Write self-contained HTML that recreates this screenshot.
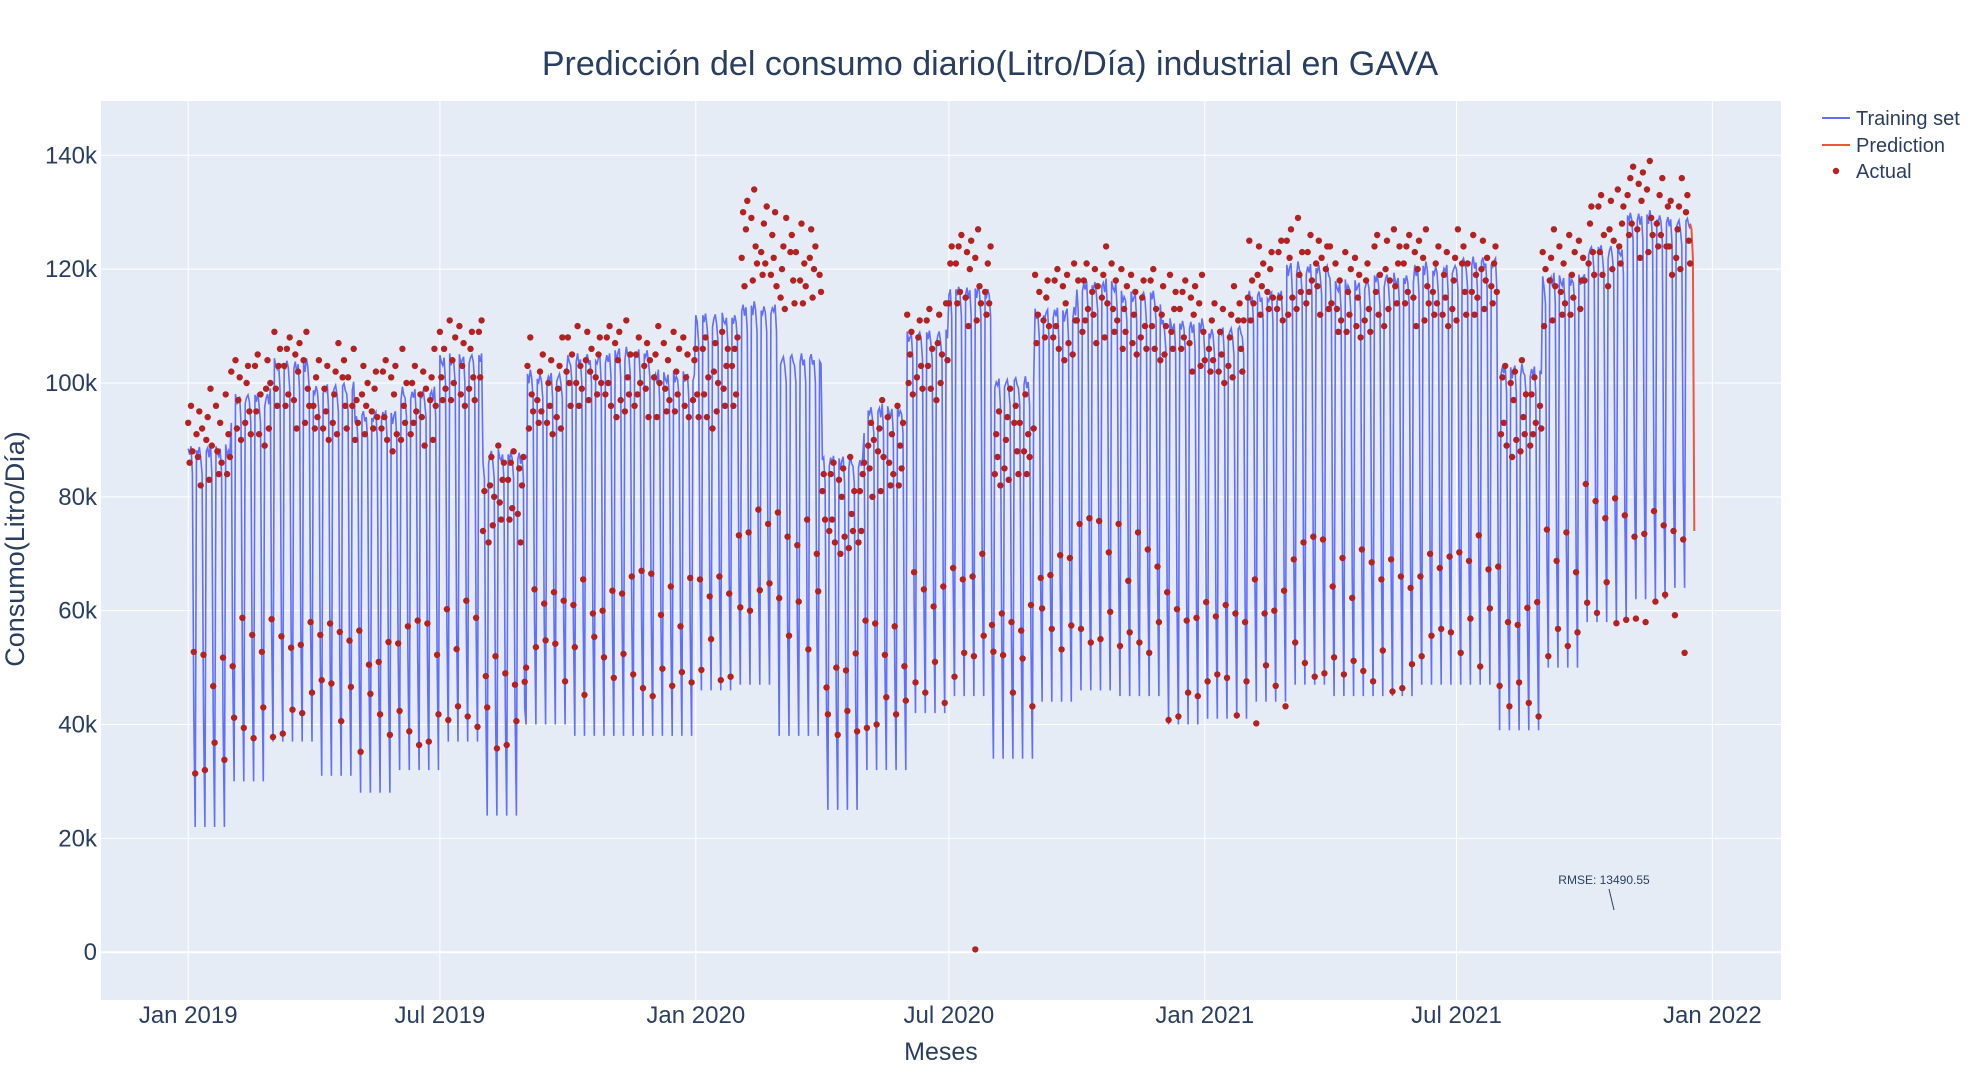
<!DOCTYPE html>
<html><head><meta charset="utf-8">
<style>
html,body{margin:0;padding:0;background:#fff;}
svg{display:block;font-family:"Liberation Sans",sans-serif;}
</style></head>
<body>
<svg id="chart" width="1980" height="1080" viewBox="0 0 1980 1080" xmlns="http://www.w3.org/2000/svg">
<rect x="101" y="101" width="1680" height="899" fill="#e5ecf6"/>
<g id="grid"></g>
<g id="series"></g>
<g id="axes"></g>
<text x="990" y="75" text-anchor="middle" font-size="34" fill="#2a3f5f">Predicción del consumo diario(Litro/Día) industrial en GAVA</text>
<text x="941" y="1060" text-anchor="middle" font-size="25" fill="#2a3f5f">Meses</text>
<text transform="translate(24,549) rotate(-90)" text-anchor="middle" font-size="27" fill="#2a3f5f">Consumo(Litro/Día)</text>
<g>
 <g><line x1="1822" y1="118" x2="1850" y2="118" stroke="#636efa" stroke-width="2"/><text x="1856" y="125" font-size="20" fill="#2a3f5f">Training set</text></g>
 <g><line x1="1822" y1="145" x2="1850" y2="145" stroke="#EF553B" stroke-width="2"/><text x="1856" y="152" font-size="20" fill="#2a3f5f">Prediction</text></g>
 <g><circle cx="1836" cy="171" r="3.2" fill="#B22222"/><text x="1856" y="178" font-size="20" fill="#2a3f5f">Actual</text></g>
</g>
<g>
 <text x="1604" y="884" text-anchor="middle" font-size="12" fill="#2a3f5f">RMSE: 13490.55</text>
 <line x1="1609" y1="889" x2="1614" y2="910" stroke="#2a3f5f" stroke-width="1"/>
</g>
</svg>
<script>
// monthly levels (k litres), Jan 2019 .. Dec 2021
const trainHi=[88,97,103,99,94,98,104,87,101,104,105,101, 111,113,104,86,95,108,116,100,112,117,115,110, 109,115,120,117,118,120,121,102,118,123,129,128];
const trainLo=[22,30,37,31,28,32,37,24,40,38,38,38, 46,47,38,25,32,42,45,34,44,46,45,40, 41,44,47,45,45,47,47,39,50,58,62,64];
const actHi=[90,97,100,98,96,97,103,80,99,102,102,101, 100,125,120,78,88,105,118,90,112,115,112,110, 108,117,120,115,118,118,118,95,118,125,130,127];
const actLo=[35,40,42,43,40,40,42,40,50,50,50,48, 52,60,58,40,43,48,52,48,55,58,55,45, 44,45,52,50,50,52,55,45,55,62,58,55];
const jitter=[3,-4,6,-2,8,-6,1,-3,5,-8,2,7,-5,0,4,-7,9,-1,-4,3,6,-2,-6];
const outliers=[["2020-07-20",0.5]];
const trainEnd="2021-12-16";
const predDates=["2021-12-16","2021-12-17","2021-12-18","2021-12-19"];
const predValues=[128,127,122,74];
const yTicks=[0,20,40,60,80,100,120,140];
const yTickLabels=["0","20k","40k","60k","80k","100k","120k","140k"];
const xTickDates=["2019-01-01","2019-07-01","2020-01-01","2020-07-01","2021-01-01","2021-07-01","2022-01-01"];
const xTickLabels=["Jan 2019","Jul 2019","Jan 2020","Jul 2020","Jan 2021","Jul 2021","Jan 2022"];

const NS="http://www.w3.org/2000/svg";
const t0=Date.UTC(2019,0,1);
function days(s){return (Date.parse(s+"T00:00:00Z")-t0)/86400000;}
function X(d){return 188.2+d/1096*1524.2;}
function Y(v){return 952.2-v/140*796.9;}
function mk(tag,attrs,parent){const e=document.createElementNS(NS,tag);for(const k in attrs)e.setAttribute(k,attrs[k]);parent.appendChild(e);return e;}
const grid=document.getElementById('grid'),axes=document.getElementById('axes'),ser=document.getElementById('series');
yTicks.forEach((v,i)=>{
 const l=mk('line',{x1:101,x2:1781,y1:Y(v),y2:Y(v),stroke:'#fff','stroke-width':v===0?2:1},grid);
 
 
 const t=mk('text',{x:97,y:Y(v)+8,'text-anchor':'end','font-size':24,fill:'#2a3f5f'},axes);
 t.textContent=yTickLabels[i];
 
 
});
xTickDates.forEach((s,i)=>{
 const x=X(days(s));
 const l=mk('line',{x1:x,x2:x,y1:101,y2:1000,stroke:'#fff','stroke-width':1},grid);
 
 
 const t=mk('text',{x:x,y:1023,'text-anchor':'middle','font-size':24,fill:'#2a3f5f'},axes);
 t.textContent=xTickLabels[i];
 
 
});
const nEnd=days(trainEnd);
let tp=[],act=[];
for(let d=0;d<=nEnd;d++){
 const dt=new Date(t0+d*86400000);
 const m=(dt.getUTCFullYear()-2019)*12+dt.getUTCMonth();
 const dow=dt.getUTCDay();
 let tv,av;
 const j=jitter[d%jitter.length];
 if(dow===0){tv=trainLo[m];av=actLo[m]+j*0.6;}
 else if(dow===6){tv=trainLo[m]+(trainHi[m]-trainLo[m])*0.3;av=actLo[m]+(actHi[m]-actLo[m])*0.25+j*0.5;}
 else if(dow===5){tv=trainHi[m]-(trainHi[m]-trainLo[m])*0.06;av=actHi[m]+j;}
 else{tv=trainHi[m]+j*0.15;av=actHi[m]+j;}
 tp.push(X(d).toFixed(1)+','+Y(tv).toFixed(1));
 act.push([d,av]);
}
const tl=mk('polyline',{points:tp.join(' '),fill:'none',stroke:'#636efa','stroke-width':1.6},ser);


const pp=predDates.map((s,i)=>X(days(s)).toFixed(1)+','+Y(predValues[i]).toFixed(1));
const pl=mk('polyline',{points:pp.join(' '),fill:'none',stroke:'#EF553B','stroke-width':2},ser);


outliers.forEach(o=>act.push([days(o[0]),o[1]]));
act.forEach(a=>{
 const c=mk('circle',{cx:X(a[0]).toFixed(1),cy:Y(a[1]).toFixed(1),r:3.2,fill:'#B22222'},ser);
 
 
});
</script>
</body></html>
